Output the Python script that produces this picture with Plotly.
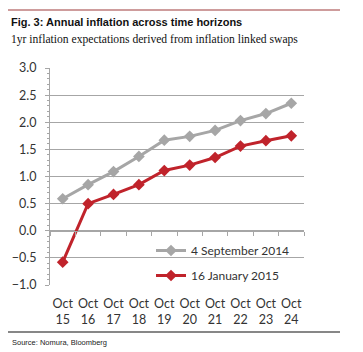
import plotly.graph_objects as go

categories = ["Oct<br>15", "Oct<br>16", "Oct<br>17", "Oct<br>18", "Oct<br>19",
              "Oct<br>20", "Oct<br>21", "Oct<br>22", "Oct<br>23", "Oct<br>24"]
sep_2014 = [0.59, 0.85, 1.09, 1.37, 1.67, 1.74, 1.85, 2.03, 2.16, 2.35]
jan_2015 = [-0.58, 0.50, 0.67, 0.85, 1.11, 1.21, 1.35, 1.56, 1.66, 1.75]
name_2014 = "4 September 2014"
name_2015 = "16 January 2015"
y_min, y_max = -1.0, 3.0

W, H = 363, 352
L, R, T, B = 50, 59, 68, 67
PW, PH = W - L - R, H - T - B


def px(x):
    return (x - L) / PW


def py(y):
    return (H - B - y) / PH


GRAY = "#a6a6a6"
RED = "#c0232b"
FONT = "Lato, 'Liberation Sans', Arial, sans-serif"

fig = go.Figure()
fig.add_trace(go.Scatter(
    x=categories, y=sep_2014, name=name_2014, mode="lines+markers",
    line=dict(color=GRAY, width=3), marker=dict(symbol="diamond", size=9, color=GRAY),
    legendgroup="a"))
fig.add_trace(go.Scatter(
    x=categories, y=jan_2015, name=name_2015, mode="lines+markers",
    line=dict(color=RED, width=3), marker=dict(symbol="diamond", size=9, color=RED),
    legendgroup="b"))
# helper trace so the category axis crossing at zero can be drawn
fig.add_trace(go.Scatter(x=categories, y=[None] * len(categories), xaxis="x2",
                         mode="none", showlegend=False, hoverinfo="skip"))

fig.update_layout(
    width=W, height=H,
    margin=dict(l=L, r=R, t=T, b=B, pad=0),
    paper_bgcolor="white", plot_bgcolor="white",
    font=dict(family=FONT, size=12, color="#333333"),
    showlegend=True,
    legend=dict(x=px(151), y=py(236), xanchor="left", yanchor="top",
                bgcolor="rgba(0,0,0,0)", font=dict(size=12, color="#333333"),
                tracegroupgap=6, traceorder="grouped", itemwidth=30),
    xaxis=dict(type="category", showgrid=False, showline=False, zeroline=False,
               ticks="", ticklabelstandoff=9, tickfont=dict(size=12.5, color="#333333"),
               range=[-0.5, len(categories) - 0.5]),
    xaxis2=dict(type="category", overlaying="x", anchor="free",
                position=(0 - y_min) / (y_max - y_min), matches="x",
                showline=True, linecolor=GRAY, linewidth=1,
                ticks="outside", ticklen=4, tickcolor=GRAY, tickson="boundaries",
                showticklabels=False, showgrid=False, zeroline=False, side="bottom"),
    yaxis=dict(range=[y_min, y_max], dtick=0.5, tick0=0, tickformat=".1f",
               showgrid=True, gridcolor=GRAY, gridwidth=1, zeroline=False,
               showline=True, linecolor=GRAY, linewidth=1,
               ticks="outside", ticklen=4, tickcolor=GRAY, ticklabelstandoff=6,
               minor=dict(dtick=0.1, ticks="outside", ticklen=2, tickcolor=GRAY),
               tickfont=dict(size=12.5, color="#333333")),
)

fig.add_shape(type="line", xref="paper", yref="paper", x0=px(8), x1=px(340),
              y0=py(10), y1=py(10), line=dict(color="#9e3a3a", width=1.2))
fig.add_shape(type="line", xref="paper", yref="paper", x0=px(8), x1=px(340),
              y0=py(332), y1=py(332), line=dict(color="#111111", width=1.2))

fig.add_annotation(text="<b>Fig. 3: Annual inflation across time horizons</b>",
                   xref="paper", yref="paper", x=px(9), y=py(22), xanchor="left",
                   yanchor="middle", showarrow=False,
                   font=dict(family="'Liberation Sans', Arial, sans-serif", size=11, color="#111111"))
fig.add_annotation(text="1yr inflation expectations derived from inflation linked swaps",
                   xref="paper", yref="paper", x=px(9), y=py(40), xanchor="left",
                   yanchor="middle", showarrow=False,
                   font=dict(family="'Liberation Serif', 'Times New Roman', serif", size=11.6, color="#111111"))
fig.add_annotation(text="Source: Nomura, Bloomberg",
                   xref="paper", yref="paper", x=px(10), y=py(342), xanchor="left",
                   yanchor="middle", showarrow=False,
                   font=dict(family="'Liberation Sans', Arial, sans-serif", size=7.5, color="#222222"))

fig.write_html("out.html")
